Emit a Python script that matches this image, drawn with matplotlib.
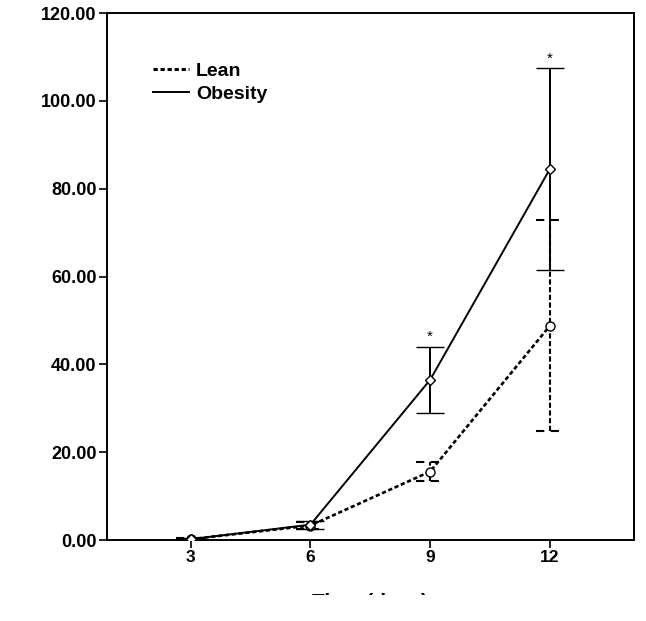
import matplotlib
matplotlib.use('Agg')
import matplotlib.pyplot as plt
from matplotlib import font_manager
from matplotlib.lines import Line2D
from matplotlib.transforms import Bbox

# values
days = [3, 6, 9, 12]
lean_mean = [0.2, 3.3, 15.6, 48.8]
lean_err = [0.2, 0.7, 2.1, 24.0]
obese_mean = [0.2, 3.5, 36.5, 84.5]
obese_err = [0.2, 0.9, 7.5, 23.0]
star_days = [9, 12]
y_ticks = [0, 20, 40, 60, 80, 100, 120]

def pick_font(names):
    for n in names:
        try:
            font_manager.findfont(n, fallback_to_default=False)
            return n
        except Exception:
            pass
    return 'DejaVu Sans'

main_font = pick_font(['Liberation Sans', 'Arial'])
narrow_font = pick_font(['Liberation Sans Narrow', 'Arial Narrow', 'Liberation Sans'])
plt.rcParams['font.family'] = main_font

fig = plt.figure(figsize=(6.46, 6.21), dpi=100)
ax = fig.add_axes([0.1656, 0.1304, 0.8154, 0.8486])

lean_style = (0, (1.6, 1.0))

# lean: dotted line, open circles, dashed error bars
ax.plot(days, lean_mean, color='black', lw=1.9, linestyle=lean_style,
        marker='o', ms=6.5, mfc='white', mec='black', mew=1.0, label='Lean', zorder=3)
ax.vlines(days, [m - e for m, e in zip(lean_mean, lean_err)],
          [m + e for m, e in zip(lean_mean, lean_err)],
          color='black', lw=1.5, linestyles=(0, (2.5, 1.2)), zorder=2)
cap = 0.36
for d, m, e in zip(days, lean_mean, lean_err):
    ax.hlines([m - e, m + e], d - cap, d + cap, color='black', lw=1.5,
              linestyles=(0, (4, 3)), zorder=2)

# obesity: solid line, open diamonds, solid error bars
ax.errorbar(days, obese_mean, yerr=obese_err, color='black', lw=1.4,
            marker='D', ms=5, mfc='white', mec='black', mew=1.0,
            capsize=10.4, capthick=1.4, elinewidth=1.4, label='Obesity', zorder=3)

for d in star_days:
    i = days.index(d)
    ax.text(d, obese_mean[i] + obese_err[i] + 0.6, '*', ha='center', va='bottom',
            fontsize=11)

ax.set_xlim(0.9, 14.1)
ax.set_ylim(0, 120)
ax.set_xticks(days)
ax.set_xticklabels([str(d) for d in days], fontfamily=narrow_font,
                   fontweight='bold', fontsize=12.5)
ax.set_yticks(y_ticks)
ax.set_yticklabels([f'{v:.2f}' for v in y_ticks], fontweight='bold', fontsize=13)
ax.tick_params(axis='both', direction='out', length=6, width=1.2, color='black', pad=1.5)

for s in ax.spines.values():
    s.set_linewidth(1.4)
    s.set_color('black')

handles = [Line2D([], [], color='black', lw=2.2, linestyle=(0, (1.4, 0.9))),
           Line2D([], [], color='black', lw=1.4)]
ax.legend(handles, ['Lean', 'Obesity'], loc='upper left', bbox_to_anchor=(0.055, 0.94),
          frameon=False, handlelength=1.85, handletextpad=0.35, labelspacing=0.3,
          prop={'weight': 'bold', 'size': 14})

# x label, cropped at the bottom like in the reference
xl = fig.text(0.573, 0.030, 'Time (days)', ha='center', va='center',
              fontsize=15, fontweight='bold')
xl.set_clip_on(True)
xl.set_clip_box(Bbox([[0, 621 - 595], [646, 621]]))

fig.savefig('out.png', dpi=100)
